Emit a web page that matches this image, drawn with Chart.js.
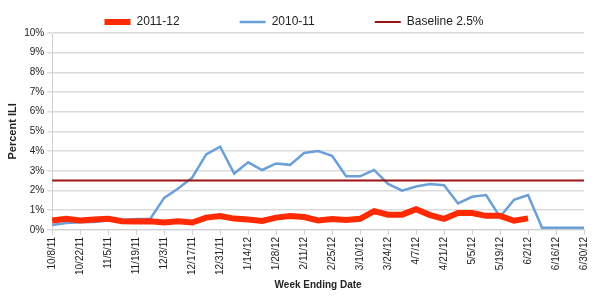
<!DOCTYPE html>
<html>
<head>
<meta charset="utf-8">
<script src="https://cdn.jsdelivr.net/npm/chart.js@4"></script>
<style>
  html, body { margin: 0; padding: 0; background: #fff; }
  #wrap { width: 600px; height: 300px; }
</style>
</head>
<body>
<div id="wrap"><canvas id="iliChart" width="600" height="300"></canvas></div>
<script>
// week ending dates (labels shown every other week)
const weeks = ['10/8/11', '10/15/11', '10/22/11', '10/29/11', '11/5/11', '11/12/11', '11/19/11', '11/26/11',
  '12/3/11', '12/10/11', '12/17/11', '12/24/11', '12/31/11', '1/7/12', '1/14/12', '1/21/12', '1/28/12',
  '2/4/12', '2/11/12', '2/18/12', '2/25/12', '3/3/12', '3/10/12', '3/17/12', '3/24/12', '3/31/12',
  '4/7/12', '4/14/12', '4/21/12', '4/28/12', '5/5/12', '5/12/12', '5/19/12', '5/26/12', '6/2/12',
  '6/9/12', '6/16/12', '6/23/12', '6/30/12'];

const season2011 = [0.47, 0.56, 0.47, 0.52, 0.56, 0.44, 0.42, 0.44, 0.37, 0.43, 0.37, 0.62, 0.70,
  0.57, 0.52, 0.45, 0.62, 0.70, 0.65, 0.48, 0.55, 0.50, 0.56, 0.95, 0.77, 0.77, 1.05, 0.75, 0.56,
  0.85, 0.85, 0.71, 0.71, 0.46, 0.58];

const season2010 = [0.25, 0.35, 0.39, 0.40, 0.47, 0.50, 0.55, 0.55, 1.62, 2.10, 2.65, 3.83, 4.22,
  2.86, 3.43, 3.04, 3.37, 3.30, 3.90, 4.00, 3.76, 2.72, 2.72, 3.04, 2.33, 1.99, 2.20, 2.33, 2.27,
  1.34, 1.68, 1.77, 0.66, 1.53, 1.77, 0.10, 0.10, 0.10, 0.10];

const baseline = 2.5;

Chart.defaults.font.family = '"Liberation Sans", Arial, sans-serif';
Chart.defaults.color = '#222';

const ctx = document.getElementById('iliChart');

// extra room after the first two legend entries
const legendGap = '                  ';

new Chart(ctx, {
  type: 'line',
  data: {
    labels: weeks,
    datasets: [
      {
        label: '2011-12',
        data: season2011,
        borderColor: '#ff2a00',
        backgroundColor: '#ff2a00',
        borderWidth: 6,
        pointRadius: 0,
        order: 1
      },
      {
        label: '2010-11',
        data: season2010,
        borderColor: '#6a9fd8',
        backgroundColor: '#6a9fd8',
        borderWidth: 2.5,
        pointRadius: 0,
        order: 2
      },
      {
        label: 'Baseline 2.5%',
        data: weeks.map(() => baseline),
        borderColor: '#9c1414',
        backgroundColor: '#9c1414',
        borderWidth: 2,
        pointRadius: 0,
        order: 0
      }
    ]
  },
  options: {
    responsive: false,
    animation: false,
    layout: { padding: { left: 4, right: 16, top: 16, bottom: 9 } },
    plugins: {
      legend: {
        position: 'top',
        maxHeight: 17,
        labels: {
          usePointStyle: true,
          pointStyle: 'line',
          pointStyleWidth: 26,
          boxHeight: 12,
          padding: 0,
          font: { size: 12 },
          color: '#222',
          sort: (a, b) => a.datasetIndex - b.datasetIndex,
          generateLabels: chart => {
            const items = Chart.defaults.plugins.legend.labels.generateLabels(chart);
            items.forEach(it => { if (it.datasetIndex < 2) it.text += legendGap; });
            return items;
          }
        }
      },
      tooltip: { enabled: false }
    },
    scales: {
      x: {
        grid: {
          drawOnChartArea: false,
          tickLength: 5,
          color: c => (c.index % 2 === 0 ? '#d0d0d0' : 'rgba(0,0,0,0)')
        },
        border: { color: '#d0d0d0' },
        ticks: {
          autoSkip: false,
          maxRotation: 90,
          minRotation: 90,
          padding: 2,
          font: { size: 10 },
          color: '#222',
          callback: function (v, i) { return i % 2 === 0 ? this.getLabelForValue(v) : ''; }
        },
        title: {
          display: true,
          text: 'Week Ending Date',
          font: { size: 10, weight: 'bold' },
          color: '#222',
          padding: { top: 2, bottom: 0 }
        }
      },
      y: {
        min: 0,
        max: 10,
        grid: { color: '#dcdcdc', lineWidth: 1.5, tickLength: 5 },
        border: { color: '#d0d0d0' },
        ticks: {
          stepSize: 1,
          font: { size: 10 },
          color: '#222',
          callback: v => v + '%'
        },
        title: {
          display: true,
          text: 'Percent ILI',
          font: { size: 11, weight: 'bold' },
          color: '#222',
          padding: { top: 2, bottom: 2 }
        }
      }
    }
  }
});
</script>
</body>
</html>
